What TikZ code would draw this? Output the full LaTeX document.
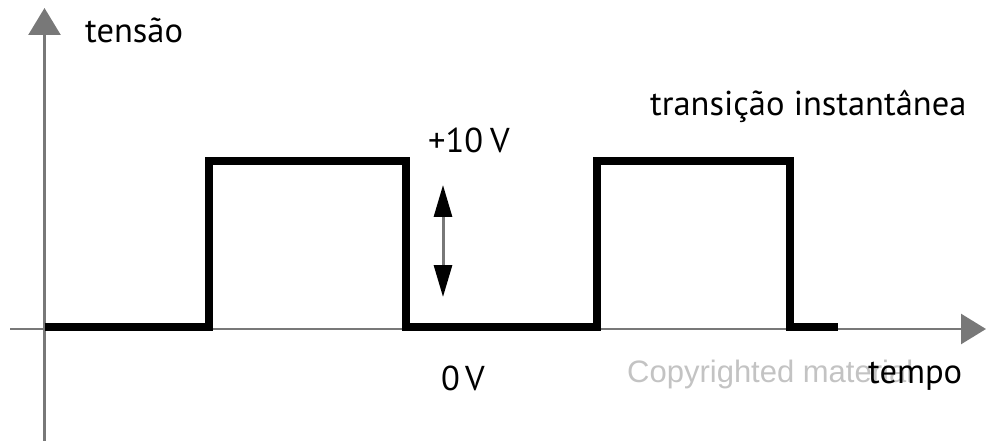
\documentclass[tikz,border=0pt]{standalone}
\usepackage{fontspec}
\setmainfont{PT Sans}
\newfontfamily\markfont{Liberation Sans}
\usetikzlibrary{arrows.meta}
\definecolor{axisgray}{RGB}{120,120,120}
\definecolor{markgray}{RGB}{195,195,195}
\tikzset{
  axisline/.style={draw=axisgray, line width=2.6pt},
  wave/.style={draw=black, line width=8pt, line join=miter, line cap=butt},
  lbl/.style={inner sep=0pt, anchor=base west, font=\fontsize{34.5}{40}\selectfont},
  wmark/.style={inner sep=0pt, anchor=base west, text=markgray,
               font=\markfont\fontsize{31}{36}\selectfont},
}
\begin{document}
\begin{tikzpicture}[x=1pt, y=-1pt]
  \useasboundingbox (0,0) rectangle (986,441);

  % axes
  \coordinate (yb) at (44.5,441);
  \coordinate (yt) at (44.5,8);
  \coordinate (xl) at (10,329);
  \coordinate (xr) at (986,329);
  \draw[axisline, -{Triangle[length=27pt,width=32pt]}] (yb) -- (yt);
  \draw[axisline, -{Triangle[length=25pt,width=30pt]}] (xl) -- (xr);

  % square wave
  \coordinate (w0) at (44.5,326.5);
  \coordinate (w1) at (209,326.5);
  \coordinate (w2) at (209,161.5);
  \coordinate (w3) at (406,161.5);
  \coordinate (w4) at (406,326.5);
  \coordinate (w5) at (597,326.5);
  \coordinate (w6) at (597,161.5);
  \coordinate (w7) at (790,161.5);
  \coordinate (w8) at (790,326.5);
  \coordinate (w9) at (838,326.5);
  \draw[wave] (w0) -- (w1) -- (w2) -- (w3) -- (w4) -- (w5) -- (w6) -- (w7) -- (w8) -- (w9);

  % amplitude arrow
  \coordinate (at) at (443,185);
  \coordinate (ab) at (443,297);
  \draw[draw=axisgray, line width=3pt,
        {Triangle[length=32pt,width=18pt,color=black]}-{Triangle[length=32pt,width=18pt,color=black]}]
        (ab) -- (at);

  % labels
  \node[lbl] (tensao) at (85,43) {tensão};
  \node[lbl] (dez) at (428,153) {+10\hspace{0.2em}V};
  \node[lbl] (trans) at (650,116) {transição instantânea};
  \node[lbl] (zero) at (441,390) {0\hspace{0.15em}V};
  \node[wmark] (copy) at (627,382) {Copyrighted material};
  \node[lbl] (tempo) at (868,383) {tempo};
\end{tikzpicture}
\end{document}
